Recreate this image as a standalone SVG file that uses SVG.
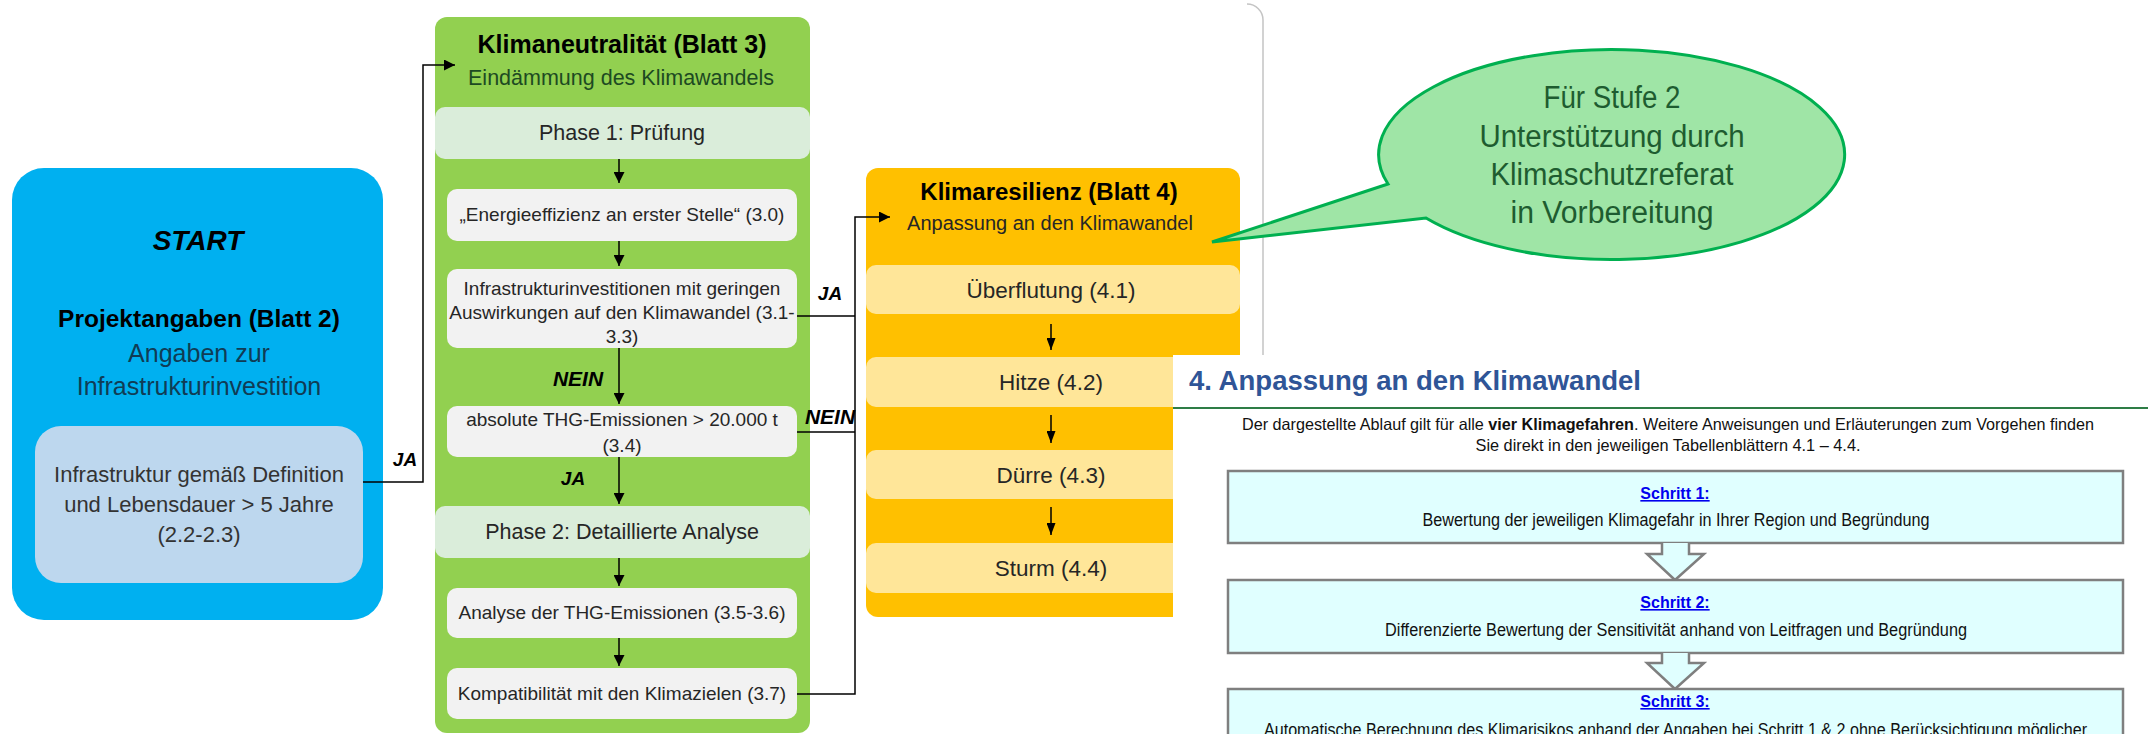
<svg xmlns="http://www.w3.org/2000/svg" width="2148" height="734" viewBox="0 0 2148 734">
<defs>
<marker id="ah" viewBox="0 0 10 10" refX="10" refY="5" markerWidth="11" markerHeight="11" markerUnits="userSpaceOnUse" orient="auto">
<path d="M0,0 L10,5 L0,10 z" fill="#000"/>
</marker>
<marker id="ahs" viewBox="0 0 10 10" refX="10" refY="5" markerWidth="12" markerHeight="9" markerUnits="userSpaceOnUse" orient="auto" preserveAspectRatio="none">
<path d="M0,0 L10,5 L0,10 z" fill="#000"/>
</marker>
<style>
text{font-family:"Liberation Sans",Arial,sans-serif;text-anchor:middle}
.b{font-weight:bold}
.bi{font-weight:bold;font-style:italic;fill:#000}
.sub{fill:#F2F2F2}
.subt{font-size:19px;fill:#262626}
.phase{fill:#DAEDDA}
.phaset{font-size:21.5px;fill:#262626}
.item{fill:#FFE699}
.itemt{font-size:22.5px;fill:#262626}
.conn{fill:none;stroke:#000;stroke-width:1.5}
.step{fill:#E0FFFF;stroke:#7F7F7F;stroke-width:2.5}
.schritt{font-size:16px;font-weight:bold;fill:#0000EE;text-decoration:underline}
.stept{font-size:17.5px;fill:#111}
.bubt{font-size:31px;fill:#1E5C30}
</style>
</defs>
<rect width="2148" height="734" fill="#fff"/>

<g id="start">
<rect x="12" y="168" width="371" height="452" rx="32" fill="#00B0F0"/>
<text x="198" y="250" class="bi" font-size="28">START</text>
<text x="199" y="327" class="b" font-size="24.5" fill="#000">Projektangaben (Blatt 2)</text>
<text x="199" y="362" font-size="25" fill="#103C55">Angaben zur</text>
<text x="199" y="395" font-size="25" fill="#103C55">Infrastrukturinvestition</text>
</g>
<g id="infra">
<rect x="35" y="426" width="328" height="157" rx="26" fill="#BDD7EE"/>
<text x="199" y="482" font-size="22" fill="#333">Infrastruktur gemäß Definition</text>
<text x="199" y="512" font-size="22" fill="#333">und Lebensdauer &gt; 5 Jahre</text>
<text x="199" y="542" font-size="22" fill="#333">(2.2-2.3)</text>
</g>

<g id="klimaneutralitaet">
<rect x="435" y="17" width="375" height="716" rx="12" fill="#92D050"/>
<text x="622" y="53" class="b" font-size="25" fill="#000">Klimaneutralität (Blatt 3)</text>
<text x="621" y="85" font-size="21.5" fill="#1D4A22">Eindämmung des Klimawandels</text>
</g>
<g id="phase1">
<rect x="435" y="107" width="375" height="52" rx="10" class="phase"/>
<text x="622" y="140" class="phaset">Phase 1: Prüfung</text>
</g>
<g id="energieeffizienz">
<rect x="447" y="189" width="350" height="52" rx="10" class="sub"/>
<text x="622" y="221" class="subt">„Energieeffizienz an erster Stelle“ (3.0)</text>
</g>
<g id="geringe-auswirkungen">
<rect x="447" y="269" width="350" height="79" rx="10" class="sub"/>
<text x="622" y="295" class="subt" font-size="18.5">Infrastrukturinvestitionen mit geringen</text>
<text x="622" y="319" class="subt" font-size="18.5">Auswirkungen auf den Klimawandel (3.1-</text>
<text x="622" y="343" class="subt" font-size="18.5">3.3)</text>
</g>
<g id="thg-absolut">
<rect x="447" y="406" width="350" height="51" rx="10" class="sub"/>
<text x="622" y="426" class="subt">absolute THG-Emissionen &gt; 20.000 t</text>
<text x="622" y="452" class="subt">(3.4)</text>
</g>
<g id="phase2">
<rect x="435" y="506" width="375" height="52" rx="10" class="phase"/>
<text x="622" y="539" class="phaset">Phase 2: Detaillierte Analyse</text>
</g>
<g id="thg-analyse">
<rect x="447" y="588" width="350" height="50" rx="10" class="sub"/>
<text x="622" y="619" class="subt">Analyse der THG-Emissionen (3.5-3.6)</text>
</g>
<g id="kompatibilitaet">
<rect x="447" y="668" width="350" height="51" rx="10" class="sub"/>
<text x="622" y="700" class="subt">Kompatibilität mit den Klimazielen (3.7)</text>
</g>

<g id="klimaresilienz">
<rect x="866" y="168" width="374" height="449" rx="12" fill="#FFC000"/>
<text x="1049" y="200" class="b" font-size="24" fill="#000">Klimaresilienz (Blatt 4)</text>
<text x="1050" y="230" font-size="20" fill="#262626">Anpassung an den Klimawandel</text>
</g>
<g id="ueberflutung">
<rect x="866" y="265" width="374" height="49" rx="10" class="item"/>
<text x="1051" y="298" class="itemt">Überflutung (4.1)</text>
</g>
<g id="hitze">
<rect x="866" y="357" width="374" height="50" rx="10" class="item"/>
<text x="1051" y="390" class="itemt">Hitze (4.2)</text>
</g>
<g id="duerre">
<rect x="866" y="450" width="374" height="49" rx="10" class="item"/>
<text x="1051" y="483" class="itemt">Dürre (4.3)</text>
</g>
<g id="sturm">
<rect x="866" y="543" width="374" height="50" rx="10" class="item"/>
<text x="1051" y="576" class="itemt">Sturm (4.4)</text>
</g>

<g id="connectors">
<path class="conn" d="M363,482 H423 V65 H455" marker-end="url(#ah)"/>
<path class="conn" d="M619,159 V183" marker-end="url(#ah)"/>
<path class="conn" d="M619,241 V266" marker-end="url(#ah)"/>
<path class="conn" d="M619,348 V404" marker-end="url(#ah)"/>
<path class="conn" d="M619,457 V504" marker-end="url(#ah)"/>
<path class="conn" d="M619,558 V586" marker-end="url(#ah)"/>
<path class="conn" d="M619,638 V666" marker-end="url(#ah)"/>
<path class="conn" d="M797,316 H855"/>
<path class="conn" d="M797,432 H855"/>
<path class="conn" d="M797,694 H855 V217 H890" marker-end="url(#ah)"/>
<path class="conn" d="M1051,324 V350" marker-end="url(#ahs)"/>
<path class="conn" d="M1051,415 V443" marker-end="url(#ahs)"/>
<path class="conn" d="M1051,507 V535" marker-end="url(#ahs)"/>
<text x="405" y="466" class="bi" font-size="19">JA</text>
<text x="578" y="386" class="bi" font-size="21">NEIN</text>
<text x="573" y="485" class="bi" font-size="19">JA</text>
<text x="830" y="300" class="bi" font-size="19">JA</text>
<text x="830" y="424" class="bi" font-size="21">NEIN</text>
</g>

<path d="M1247,4 A16,16 0 0 1 1263,20 V356" fill="none" stroke="#C4C4C4" stroke-width="1.5"/>

<g id="bubble">
<path d="M1388,184 L1212,242 L1426,218 A233,105 0 1 0 1388,184 Z" fill="#9FE5A6" stroke="#00B050" stroke-width="3" stroke-linejoin="miter"/>
<text x="1612" y="108" class="bubt" textLength="137" lengthAdjust="spacingAndGlyphs">Für Stufe 2</text>
<text x="1612" y="147" class="bubt" textLength="265" lengthAdjust="spacingAndGlyphs">Unterstützung durch</text>
<text x="1612" y="185" class="bubt" textLength="243" lengthAdjust="spacingAndGlyphs">Klimaschutzreferat</text>
<text x="1612" y="223" class="bubt" textLength="203" lengthAdjust="spacingAndGlyphs">in Vorbereitung</text>
</g>

<g id="anpassung-screenshot">
<rect x="1173" y="355" width="975" height="379" fill="#fff"/>
<text x="1189" y="390" class="b" font-size="28" fill="#2F5597" style="text-anchor:start" textLength="452" lengthAdjust="spacingAndGlyphs">4. Anpassung an den Klimawandel</text>
<line x1="1173" y1="408" x2="2148" y2="408" stroke="#2E7D46" stroke-width="2"/>
<text x="1668" y="430" font-size="16.5" fill="#111" textLength="852" lengthAdjust="spacingAndGlyphs">Der dargestellte Ablauf gilt für alle <tspan font-weight="bold">vier Klimagefahren</tspan>. Weitere Anweisungen und Erläuterungen zum Vorgehen finden</text>
<text x="1668" y="451" font-size="16.5" fill="#111" textLength="385" lengthAdjust="spacingAndGlyphs">Sie direkt in den jeweiligen Tabellenblättern 4.1 – 4.4.</text>
</g>
<g id="schritt1">
<rect x="1228" y="471" width="895" height="72" class="step"/>
<text x="1675" y="499" class="schritt">Schritt 1:</text>
<text x="1676" y="526" class="stept" textLength="507" lengthAdjust="spacingAndGlyphs">Bewertung der jeweiligen Klimagefahr in Ihrer Region und Begründung</text>
</g>
<g id="pfeil1">
<path d="M1662,543 V554 H1647 L1675,580 L1704,554 H1689 V543" class="step"/>
</g>
<g id="schritt2">
<rect x="1228" y="580" width="895" height="73" class="step"/>
<text x="1675" y="608" class="schritt">Schritt 2:</text>
<text x="1676" y="636" class="stept" textLength="582" lengthAdjust="spacingAndGlyphs">Differenzierte Bewertung der Sensitivität anhand von Leitfragen und Begründung</text>
</g>
<g id="pfeil2">
<path d="M1662,653 V663 H1647 L1675,689 L1704,663 H1689 V653" class="step"/>
</g>
<g id="schritt3">
<rect x="1228" y="689" width="895" height="60" class="step"/>
<text x="1675" y="707" class="schritt">Schritt 3:</text>
<text x="1264" y="736" class="stept" style="text-anchor:start" textLength="823" lengthAdjust="spacingAndGlyphs">Automatische Berechnung des Klimarisikos anhand der Angaben bei Schritt 1 &amp; 2 ohne Berücksichtigung möglicher</text>
</g>
</svg>
